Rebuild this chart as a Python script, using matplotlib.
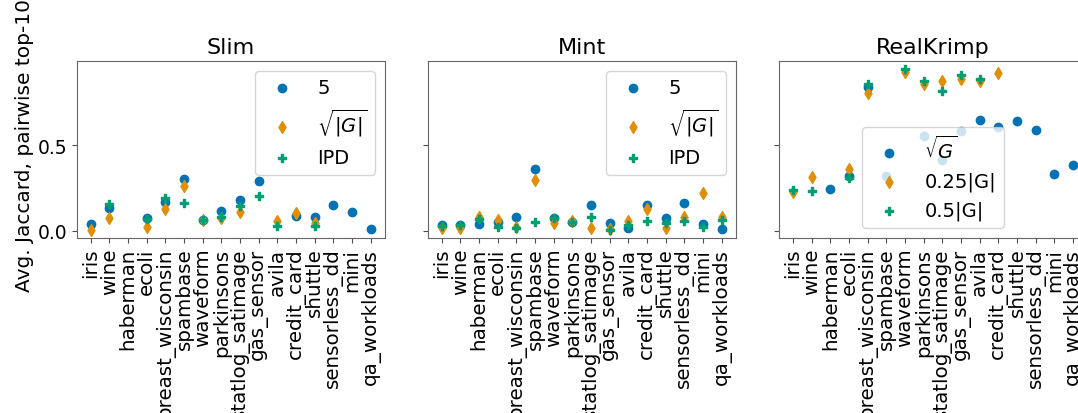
import numpy as np
import matplotlib
matplotlib.use("Agg")
import matplotlib.pyplot as plt

## Data
datasets = ['iris', 'wine', 'haberman', 'ecoli', 'breast_wisconsin', 'spambase',
            'waveform', 'parkinsons', 'statlog_satimage', 'gas_sensor', 'avila',
            'credit_card', 'shuttle', 'sensorless_dd', 'mini', 'qa_workloads']
nan = np.nan

# Slim
slim_5 = [0.039, 0.13, nan, 0.072, 0.169, 0.304, 0.062, 0.114, 0.178, 0.289,
          nan, 0.085, 0.078, 0.147, 0.107, 0.008]
slim_sqrt = [0.004, 0.076, nan, 0.019, 0.124, 0.26, 0.06, 0.072, 0.107, nan,
             0.056, 0.105, 0.047, nan, nan, nan]
slim_ipd = [nan, 0.155, nan, 0.066, 0.19, 0.16, 0.062, 0.08, 0.143, 0.2,
            0.029, nan, 0.029, nan, nan, nan]

# Mint
mint_5 = [0.033, 0.033, 0.04, 0.048, 0.078, 0.359, 0.076, 0.052, 0.149, 0.045,
          0.014, 0.149, 0.072, 0.163, 0.039, 0.008]
mint_sqrt = [0.017, 0.014, 0.078, 0.062, 0.021, 0.293, 0.045, 0.055, 0.017, 0.01,
             0.056, 0.126, 0.017, 0.078, 0.217, 0.079]
mint_ipd = [0.03, 0.033, 0.068, 0.021, 0.017, 0.048, 0.072, 0.052, 0.078, 0.006,
            0.033, 0.056, 0.047, 0.056, 0.019, 0.062]

# RealKrimp
rk_sqrt = [nan, nan, 0.246, 0.318, 0.837, 0.32, nan, 0.55, 0.41, 0.58,
           0.647, 0.608, 0.64, 0.585, 0.331, 0.382]
rk_q25 = [0.223, 0.312, nan, 0.362, 0.804, nan, 0.928, 0.857, 0.872, 0.886,
          0.876, 0.92, nan, nan, nan, nan]
rk_half = [0.24, 0.233, nan, 0.31, 0.857, nan, 0.944, 0.872, 0.816, 0.909,
           0.886, nan, nan, nan, nan, nan]

titles = ['Slim', 'Mint', 'RealKrimp']
series = [
    [(slim_5, '5'), (slim_sqrt, r'$\sqrt{|G|}$'), (slim_ipd, 'IPD')],
    [(mint_5, '5'), (mint_sqrt, r'$\sqrt{|G|}$'), (mint_ipd, 'IPD')],
    [(rk_sqrt, r'$\sqrt{G}$'), (rk_q25, '0.25|G|'), (rk_half, '0.5|G|')],
]
legend_locs = ['upper right', 'upper right', 'lower center']

# seaborn colorblind palette
colors = ['#0173b2', '#de8f05', '#029e73']
markers = ['o', 'd', 'P']

plt.rcParams['font.size'] = 14
plt.rcParams['axes.edgecolor'] = '0.4'
plt.rcParams['xtick.color'] = '0.3'
plt.rcParams['ytick.color'] = '0.3'
plt.rcParams['xtick.labelcolor'] = 'black'
plt.rcParams['ytick.labelcolor'] = 'black'

fig = plt.figure(figsize=(10.78, 4.14), dpi=100)
W, H = 1078.0, 414.0
lefts = [76.7, 427.7, 779.0]
axes = []
for i, lx in enumerate(lefts):
    ax = fig.add_axes([lx / W, (H - 239) / H, 308 / W, 177 / H],
                      sharey=axes[0] if axes else None)
    axes.append(ax)

x = np.arange(len(datasets))
for ax, title, ser, loc in zip(axes, titles, series, legend_locs):
    for (vals, lab), c, m in zip(ser, colors, markers):
        ax.scatter(x, vals, color=c, marker=m, s=36, label=lab)
    ax.set_title(title, fontsize=16)
    ax.set_xticks(x)
    ax.set_xticklabels(datasets, rotation=90, fontsize=14.3)
    ax.legend(loc=loc, fontsize=14)

axes[0].set_yticks([0.0, 0.5])
axes[0].tick_params(axis='y', labelsize=13.5)
for ax in axes[1:]:
    ax.tick_params(labelleft=False)

fig.text(25 / W, (H - 292) / H, 'Avg. Jaccard, pairwise top-10',
         rotation=90, ha='center', va='bottom', fontsize=14.5)

fig.savefig('out.png', dpi=100)
